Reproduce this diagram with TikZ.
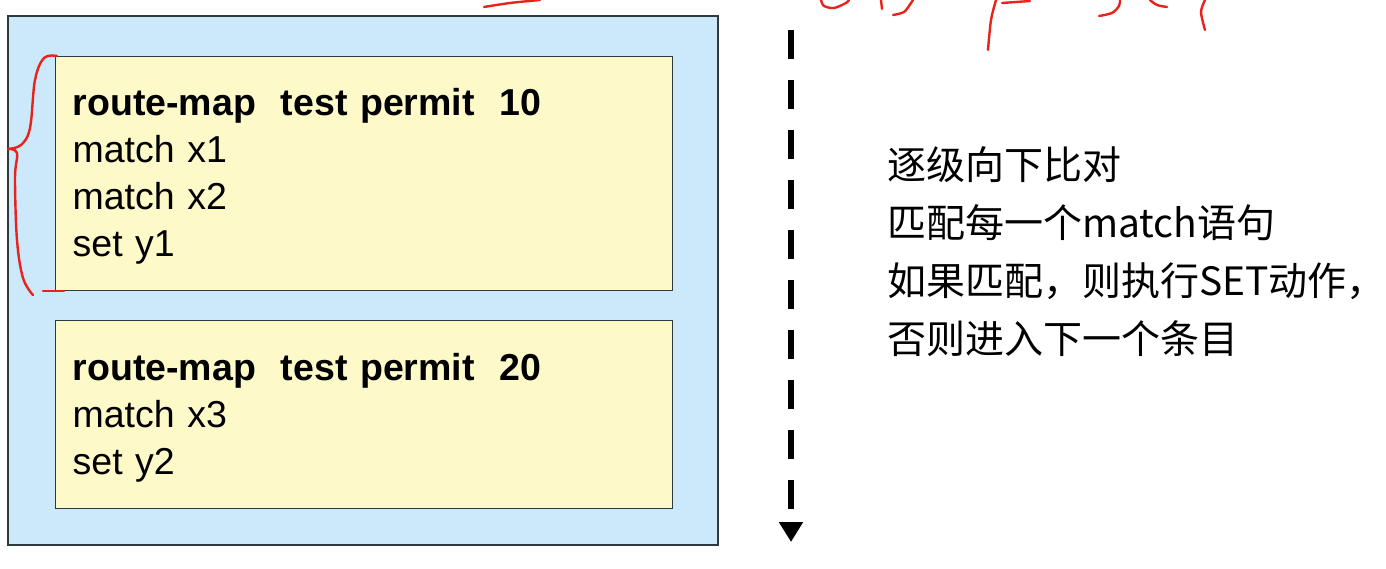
\documentclass[tikz,border=0pt]{standalone}
\usepackage{fontspec}
\setmainfont{Liberation Sans}
\newfontfamily\cjk{Noto Sans CJK SC}
\usepackage{xcolor}
\usepackage{tikz}
\usetikzlibrary{arrows.meta, positioning}

\definecolor{panelblue}{HTML}{CCE8FB}
\definecolor{entryyellow}{HTML}{FDF9C9}
\definecolor{edgegray}{HTML}{2F3A3F}
\definecolor{penred}{HTML}{E8231B}

\tikzset{
    panel/.style={draw=edgegray, line width=1.3pt, fill=panelblue},
    entry/.style={draw=edgegray, line width=1.3pt, fill=entryyellow,
        anchor=north west, minimum width=617pt, text width=583pt,
        inner xsep=17pt, inner ysep=0pt, align=left,
        font=\fontsize{37.5}{47}\selectfont},
    flow/.style={line width=6.5pt, dash pattern=on 29pt off 21pt,
        -{Triangle[width=23pt, length=20pt]}},
    hand/.style={draw=penred, line width=2.4pt, line cap=round, line join=round},
}

\begin{document}
\begin{tikzpicture}[x=1pt, y=-1pt]
    \useasboundingbox (0,0) rectangle (1386,569);

    % 1. Khung ngoai va hai muc route-map
    \draw[panel] (8,16) rectangle (718,545);
    \node[entry, minimum height=234pt] (rm10) at (55,56)
        {\strut\textbf{route-map~~test permit~~10}\\ match x1\\ match x2\\ set y1};
    \node[entry, minimum height=188pt] (rm20) at (55,320)
        {\strut\textbf{route-map~~test permit~~20}\\ match x3\\ set y2};

    % 2. Mui ten net dut
    \coordinate (flowtop) at (791,30);
    \coordinate (flowend) at (791,542);
    \draw[flow] (flowtop) -- (flowend);

    % 3. Chu thich
    \node[anchor=north west, inner sep=0pt, align=left,
        font=\cjk\fontsize{39}{58}\selectfont] (note) at (887,146)
        {逐级向下比对\\ 匹配每一个match语句\\ 如果匹配，则执行SET动作，\\ 否则进入下一个条目};

    % 4. Net but do
    \draw[hand] plot[smooth, tension=0.6] coordinates {(57,56) (44,58) (35,80) (30,128) (21,145) (8,149)};
    \draw[hand] plot[smooth, tension=0.6] coordinates {(8,149) (17,153) (15,178) (17,240) (23,278) (33,295)};
    \draw[hand] (43,291) -- (64,291);
    \draw[hand] plot[smooth] coordinates {(484,7) (510,3) (540,0)};
    \draw[hand] plot[smooth] coordinates {(821,0) (824,6) (834,8) (846,3) (849,0)};
    \draw[hand] (881,0) -- (882,9);
    \draw[hand] plot[smooth] coordinates {(893,15) (904,12) (911,3) (913,0)};
    \draw[hand] plot[smooth] coordinates {(996,0) (991,20) (988,50)};
    \draw[hand] (1002,3) -- (1030,1);
    \draw[hand] plot[smooth] coordinates {(1099,16) (1112,13) (1119,6) (1120,0)};
    \draw[hand] plot[smooth] coordinates {(1150,0) (1157,5) (1167,7)};
    \draw[hand] plot[smooth] coordinates {(1205,0) (1201,12) (1205,30)};
\end{tikzpicture}
\end{document}
